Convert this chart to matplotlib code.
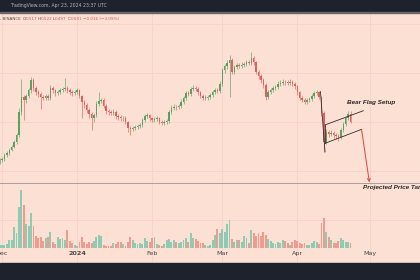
import matplotlib
matplotlib.use("Agg")
import matplotlib.pyplot as plt
import matplotlib.dates as mdates
from matplotlib.patches import Rectangle
import numpy as np
import pandas as pd

# ---------------- data (daily candles) ----------------
start_date = "2023-11-30"

opens = [0.418,0.422,0.424,0.433,0.437,0.443,0.449,0.459,0.473,0.520,
         0.551,0.545,0.553,0.565,0.586,0.569,0.561,0.557,0.551,0.549,
         0.553,0.549,0.569,0.565,0.559,0.561,0.565,0.567,0.569,0.565,
         0.561,0.559,0.561,0.565,0.553,0.541,0.535,0.524,0.516,0.508,
         0.514,0.537,0.543,0.545,0.533,0.522,0.520,0.519,0.521,0.512,
         0.510,0.508,0.509,0.500,0.488,0.486,0.488,0.490,0.492,0.494,
         0.504,0.512,0.514,0.508,0.504,0.506,0.508,0.500,0.498,0.500,
         0.502,0.520,0.529,0.531,0.530,0.532,0.541,0.549,0.559,0.558,
         0.567,0.569,0.568,0.561,0.553,0.549,0.550,0.551,0.555,0.561,
         0.565,0.564,0.578,0.606,0.614,0.620,0.627,0.602,0.612,0.616,
         0.615,0.617,0.618,0.622,0.621,0.631,0.622,0.602,0.594,0.586,
         0.576,0.551,0.561,0.565,0.569,0.571,0.578,0.580,0.582,0.581,
         0.580,0.582,0.578,0.573,0.561,0.549,0.545,0.541,0.545,0.547,
         0.553,0.559,0.561,0.551,0.518,0.459,0.480,0.476,0.478,0.473,
         0.471,0.469,0.484,0.496,0.508,0.517]

closes = [0.422,0.424,0.433,0.437,0.443,0.449,0.459,0.473,0.520,0.551,
          0.545,0.553,0.565,0.586,0.569,0.561,0.557,0.551,0.549,0.553,
          0.549,0.569,0.565,0.559,0.561,0.565,0.567,0.569,0.565,0.561,
          0.559,0.561,0.565,0.553,0.541,0.535,0.524,0.516,0.508,0.514,
          0.537,0.543,0.545,0.533,0.522,0.520,0.519,0.521,0.512,0.510,
          0.508,0.509,0.500,0.488,0.486,0.488,0.490,0.492,0.494,0.504,
          0.512,0.514,0.508,0.504,0.506,0.508,0.500,0.498,0.500,0.502,
          0.520,0.529,0.531,0.530,0.532,0.541,0.549,0.559,0.558,0.567,
          0.569,0.568,0.561,0.553,0.549,0.550,0.551,0.555,0.561,0.565,
          0.564,0.578,0.606,0.614,0.620,0.627,0.602,0.612,0.616,0.615,
          0.617,0.618,0.622,0.621,0.631,0.622,0.602,0.594,0.586,0.576,
          0.551,0.561,0.565,0.569,0.571,0.578,0.580,0.582,0.581,0.580,
          0.582,0.578,0.573,0.561,0.549,0.545,0.541,0.545,0.547,0.553,
          0.559,0.561,0.551,0.518,0.459,0.480,0.476,0.478,0.473,0.471,
          0.469,0.484,0.496,0.508,0.517,0.501]

highs = [0.426,0.428,0.436,0.441,0.447,0.453,0.463,0.477,0.528,0.588,
         0.556,0.558,0.570,0.592,0.590,0.574,0.566,0.561,0.556,0.558,
         0.557,0.576,0.573,0.568,0.566,0.570,0.572,0.590,0.573,0.569,
         0.565,0.566,0.570,0.568,0.556,0.545,0.538,0.528,0.520,0.519,
         0.542,0.562,0.550,0.548,0.536,0.527,0.524,0.526,0.524,0.516,
         0.514,0.513,0.512,0.503,0.492,0.492,0.494,0.496,0.498,0.508,
         0.517,0.519,0.517,0.511,0.511,0.512,0.511,0.504,0.505,0.506,
         0.525,0.534,0.536,0.535,0.537,0.546,0.554,0.564,0.563,0.572,
         0.575,0.573,0.571,0.564,0.557,0.555,0.556,0.560,0.566,0.570,
         0.569,0.583,0.611,0.619,0.626,0.637,0.630,0.617,0.621,0.620,
         0.622,0.623,0.627,0.626,0.643,0.634,0.625,0.606,0.598,0.590,
         0.580,0.566,0.570,0.574,0.576,0.583,0.585,0.587,0.586,0.585,
         0.587,0.585,0.581,0.576,0.564,0.553,0.549,0.550,0.552,0.558,
         0.564,0.566,0.564,0.554,0.522,0.486,0.484,0.483,0.482,0.477,
         0.475,0.488,0.501,0.513,0.522,0.522]

lows = [0.415,0.419,0.421,0.429,0.433,0.440,0.446,0.455,0.470,0.515,
        0.505,0.538,0.548,0.560,0.564,0.556,0.552,0.526,0.544,0.545,
        0.544,0.545,0.560,0.554,0.555,0.557,0.561,0.563,0.560,0.556,
        0.554,0.555,0.557,0.548,0.508,0.528,0.518,0.508,0.484,0.500,
        0.510,0.532,0.538,0.528,0.517,0.515,0.514,0.515,0.507,0.505,
        0.503,0.503,0.495,0.480,0.474,0.481,0.483,0.486,0.488,0.490,
        0.500,0.508,0.503,0.499,0.500,0.502,0.495,0.493,0.494,0.496,
        0.498,0.516,0.525,0.525,0.526,0.528,0.537,0.545,0.553,0.554,
        0.563,0.563,0.556,0.548,0.544,0.544,0.545,0.547,0.551,0.557,
        0.559,0.560,0.574,0.601,0.609,0.551,0.597,0.598,0.608,0.610,
        0.611,0.612,0.614,0.616,0.617,0.617,0.597,0.588,0.580,0.570,
        0.545,0.547,0.557,0.561,0.565,0.567,0.574,0.576,0.576,0.575,
        0.576,0.573,0.568,0.556,0.544,0.540,0.536,0.537,0.541,0.543,
        0.549,0.555,0.546,0.512,0.439,0.455,0.470,0.471,0.467,0.465,
        0.462,0.465,0.480,0.492,0.504,0.497]

volumes = [3,3,3,4,8,8,21,15,41,58,
           43,24,22,35,22,12,10,11,7,10,
           11,16,6,4,11,9,10,8,18,7,
           5,3,2,6,11,6,4,6,5,7,
           11,13,12,3,2,2,2,5,4,6,
           6,4,2,6,11,8,5,4,5,4,
           10,7,6,10,11,4,3,2,4,8,
           9,6,8,6,5,6,8,10,6,15,
           10,9,7,5,5,3,2,3,8,13,
           19,15,19,16,24,28,9,6,8,8,
           6,12,10,5,18,15,12,15,12,16,
           13,9,7,5,4,6,5,8,7,5,
           3,6,8,7,5,4,5,3,3,5,
           7,6,4,25,30,16,11,8,5,5,
           7,10,8,6,6,5]  # millions

month_ticks = ["2023-12-01", "2024-01-01", "2024-02-01", "2024-03-01", "2024-04-01", "2024-05-01"]
month_labels = ["Dec", "2024", "Feb", "Mar", "Apr", "May"]
price_grid = [0.3, 0.4, 0.5, 0.6, 0.7]

# annotations (date, price)
pole = [("2024-04-10 14:00", 0.562), ("2024-04-12 11:00", 0.439)]
flag_upper = [("2024-04-12 11:00", 0.494), ("2024-04-28 07:00", 0.523)]
flag_lower = [("2024-04-12 11:00", 0.4565), ("2024-04-27 14:00", 0.485)]
arrow_from = ("2024-04-27 14:00", 0.484)
arrow_to = ("2024-04-30 19:00", 0.377)
target_price = 0.375
flag_label = ("2024-04-21 14:00", 0.539, "Bear Flag Setup")
target_label = ("2024-04-28 05:00", 0.367, "Projected Price Target")

header1 = "TradingView.com, Apr 23, 2024 23:37 UTC"
header2 = [(", BINANCE", "l"), ("O", "l"), ("0.517", "v"), ("H", "l"), ("0.522", "v"),
           ("L", "l"), ("0.497", "v"), ("C", "l"), ("0.501", "v"), ("\u22120.016 (\u22123.09%)", "v")]
header2_x = [0, 23, 25.6, 38, 40.6, 53, 55.2, 68, 70.6, 83]

# ---------------- styling ----------------
BG = "#fde0d4"
DARK = "#1e222d"
GRID = "#f7d4c9"
UP = "#58a163"
DN = "#e35f5c"
VUP = "#8fcab3"
VDN = "#f29a8f"

W, H = 420, 280
fig = plt.figure(figsize=(4.2, 2.8), dpi=100)
fig.patch.set_facecolor(BG)

def num(s):
    return mdates.date2num(pd.Timestamp(s))

dates = pd.date_range(start_date, periods=len(closes), freq="D")
d = mdates.date2num(dates)
o = np.array(opens); c = np.array(closes); hi = np.array(highs); lo = np.array(lows)
up = c >= o
ccol = np.where(up, UP, DN)
vcol = np.where(up, VUP, VDN)

# price pane
ax = fig.add_axes([0, 17 / H, 1, 250 / H])
ax.set_facecolor(BG)
ax.set_xlim(num("2023-11-30 04:00"), num("2024-05-21 17:00"))
ax.set_ylim(0.5 - 141 / 490, 0.5 + 109 / 490)
for s in ax.spines.values():
    s.set_visible(False)
ax.set_xticks([num(t) for t in month_ticks])
ax.set_xticklabels(month_labels)
ax.set_yticks(price_grid)
ax.tick_params(axis="y", length=0, labelleft=False)
ax.tick_params(axis="x", length=0, pad=-8.3, labelsize=4.6, labelcolor="#4a4446")
ax.get_xticklabels()[1].set_fontweight("bold")
ax.grid(True, color=GRID, lw=0.7, zorder=0)
ax.set_axisbelow(True)

ax.axhline(target_price, color="#a8a09e", lw=0.7, zorder=1)

ax.vlines(d, lo, hi, colors=ccol, lw=0.45, zorder=3)
ax.bar(d, np.abs(c - o), bottom=np.minimum(o, c), width=0.62, color=ccol, lw=0, zorder=3)

for seg in (pole, flag_upper, flag_lower):
    ax.plot([num(seg[0][0]), num(seg[1][0])], [seg[0][1], seg[1][1]], color="#2e2e30", lw=0.6, zorder=4)
ax.plot([num(flag_upper[0][0]), num(flag_lower[0][0])], [flag_upper[0][1], flag_lower[0][1]],
        color="#2e2e30", lw=0.6, zorder=4)
ax.annotate("", xy=(num(arrow_to[0]), arrow_to[1]), xytext=(num(arrow_from[0]), arrow_from[1]),
            arrowprops=dict(arrowstyle="->", color="#e2433c", lw=0.7, mutation_scale=5,
                            shrinkA=0, shrinkB=0), zorder=5)
ax.text(num(flag_label[0]), flag_label[1], flag_label[2], fontsize=4.6, fontstyle="italic",
        fontweight="bold", family="Liberation Sans", color="#2a2526", va="center", ha="left", zorder=6)
ax.text(num(target_label[0]), target_label[1], target_label[2], fontsize=4.6, fontstyle="italic",
        fontweight="bold", family="Liberation Sans", color="#2a2526", va="center", ha="left",
        zorder=6, clip_on=False)

# volume pane
vax = fig.add_axes([0, 32 / H, 1, 62 / H], sharex=ax)
vax.patch.set_alpha(0)
vax.bar(d, volumes, width=0.78, color=vcol, lw=0)
vax.set_ylim(0, 62)
vax.axis("off")
ax.set_xlim(num("2023-11-30 04:00"), num("2024-05-21 17:00"))

# frame bars
fig.add_artist(Rectangle((0, 1 - 12 / H), 1, 12 / H, transform=fig.transFigure, color=DARK, zorder=10))
fig.add_artist(Rectangle((0, 1 - 13 / H), 1, 1 / H, transform=fig.transFigure, color="#6a6468", zorder=10))
fig.add_artist(Rectangle((0, 0), 1, 17 / H, transform=fig.transFigure, color=DARK, zorder=10))

fig.text(10 / W, 1 - 6 / H, header1, fontsize=3.3, color="#b2b5be", va="center", ha="left", zorder=11)
for (txt, kind), xp in zip(header2, header2_x):
    fig.text(xp / W, 1 - 19 / H, txt, fontsize=3.0, color=("#5a4c4c" if kind == "l" else "#e0554c"),
             va="center", ha="left", zorder=11)

fig.savefig("out.png", dpi=100, facecolor=BG)
